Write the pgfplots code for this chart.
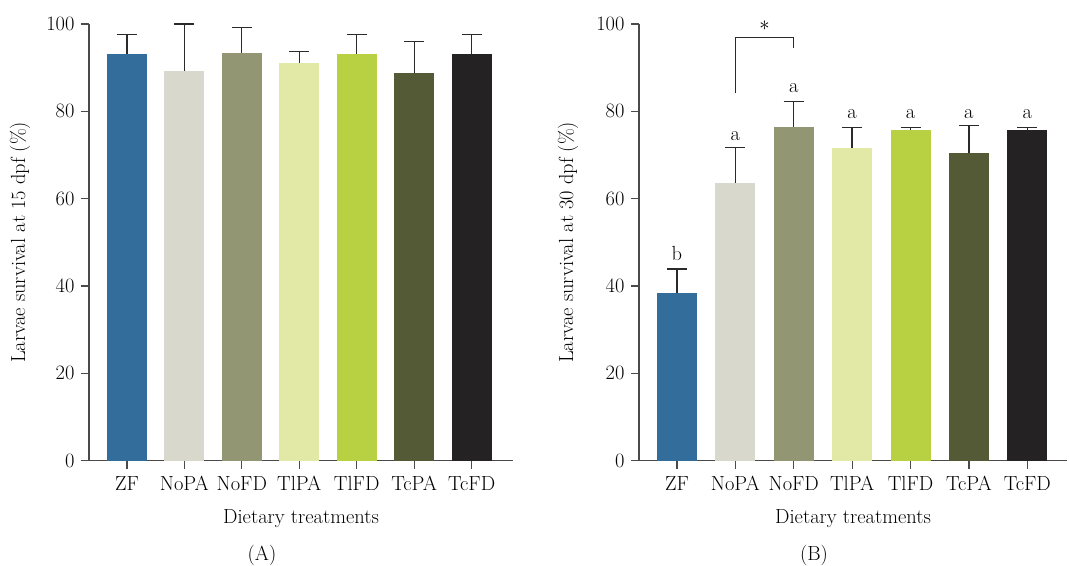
\documentclass[border=0pt]{standalone}
\usepackage{fontspec}
\usepackage{pgfplots}
\pgfplotsset{compat=1.18}
\definecolor{cZF}{HTML}{336D9B}
\definecolor{cNoPA}{HTML}{D8D9CC}
\definecolor{cNoFD}{HTML}{939672}
\definecolor{cTlPA}{HTML}{E2E8A6}
\definecolor{cTlFD}{HTML}{B8D143}
\definecolor{cTcPA}{HTML}{535A35}
\definecolor{cTcFD}{HTML}{252223}
\definecolor{axgray}{HTML}{4A4A4A}
\definecolor{errgray}{HTML}{2A2A2A}
\newcommand{\fs}{\fontsize{20.5}{24}\selectfont}
\pgfplotsset{
  panel/.style={
    scale only axis, height=436.7bp, ymin=0, ymax=100, ytick={0,20,...,100},
    /pgf/number format/assume math mode=true,
    axis lines=left, axis line style={-, draw=axgray, line width=1.2bp},
    tick style={draw=axgray, line width=1.2bp}, major tick length=8bp, tick align=outside,
    xtick pos=bottom, ytick pos=left,
    xtick={0,...,6}, xticklabels={ZF,NoPA,NoFD,TlPA,TlFD,TcPA,TcFD},
    ybar, bar width=40bp, bar shift=0pt, clip=false,
    tick label style={font=\fs},
    label style={font=\fs},
    xticklabel style={text height=13.5bp, text depth=0pt, yshift=-5bp},
    yticklabel style={xshift=-3bp},
    xlabel={Dietary treatments},
    xlabel style={at={(axis description cs:0.5,-0.1427)}, anchor=base},
  },
  eb/.style={error bars/.cd, y dir=plus, y explicit,
    error bar style={draw=errgray, line width=1.3bp},
    error mark options={draw=errgray, line width=1.3bp, mark size=10bp, rotate=90}},
}
\begin{document}
\begin{tikzpicture}[font=\fs]
\useasboundingbox (0bp,-105.3bp) rectangle (1069bp,460.7bp);
% Panel A
\begin{axis}[panel, at={(89bp,0bp)}, anchor=south west, width=424bp,
  xmin=-0.66, xmax=6.72,
  ylabel={Larvae survival at 15 dpf (\%)},
  ylabel style={at={(axis description cs:-0.1627,0.5)}, anchor=center}]
\addplot[fill=cZF, draw=none, eb] coordinates {(0,93.1) +- (0,4.5)};
\addplot[fill=cNoPA, draw=none, eb] coordinates {(1,89.2) +- (0,10.8)};
\addplot[fill=cNoFD, draw=none, eb] coordinates {(2,93.4) +- (0,5.8)};
\addplot[fill=cTlPA, draw=none, eb] coordinates {(3,91.1) +- (0,2.6)};
\addplot[fill=cTlFD, draw=none, eb] coordinates {(4,93.1) +- (0,4.5)};
\addplot[fill=cTcPA, draw=none, eb] coordinates {(5,88.8) +- (0,7.2)};
\addplot[fill=cTcFD, draw=none, eb] coordinates {(6,93.1) +- (0,4.5)};
\end{axis}
\node at (262bp,-94.3bp) {(A)};
% Panel B
\begin{axis}[panel, at={(639bp,0bp)}, anchor=south west, width=428bp,
  xmin=-0.65, xmax=6.68,
  ylabel={Larvae survival at 30 dpf (\%)},
  ylabel style={at={(axis description cs:-0.166,0.5)}, anchor=center}]
\addplot[fill=cZF, draw=none, eb] coordinates {(0,38.3) +- (0,5.6)};
\addplot[fill=cNoPA, draw=none, eb] coordinates {(1,63.6) +- (0,8.1)};
\addplot[fill=cNoFD, draw=none, eb] coordinates {(2,76.4) +- (0,5.8)};
\addplot[fill=cTlPA, draw=none, eb] coordinates {(3,71.6) +- (0,4.7)};
\addplot[fill=cTlFD, draw=none, eb] coordinates {(4,75.7) +- (0,0.6)};
\addplot[fill=cTcPA, draw=none, eb] coordinates {(5,70.4) +- (0,6.3)};
\addplot[fill=cTcFD, draw=none, eb] coordinates {(6,75.7) +- (0,0.6)};
\node[anchor=base] at (axis cs:0,45.9) {b};
\node[anchor=base] at (axis cs:1,73.4) {a};
\node[anchor=base] at (axis cs:2,84.4) {a};
\node[anchor=base] at (axis cs:3,78.4) {a};
\node[anchor=base] at (axis cs:4,78.4) {a};
\node[anchor=base] at (axis cs:5,78.4) {a};
\node[anchor=base] at (axis cs:6,78.4) {a};
\draw[errgray, line width=1.3bp] (axis cs:1,84.1) -- (axis cs:1,96.9) -- (axis cs:2,96.9) -- (axis cs:2,94.4);
\node at (axis cs:1.5,99.6) {$*$};
\end{axis}
\node at (814bp,-94.3bp) {(B)};
\end{tikzpicture}
\end{document}
